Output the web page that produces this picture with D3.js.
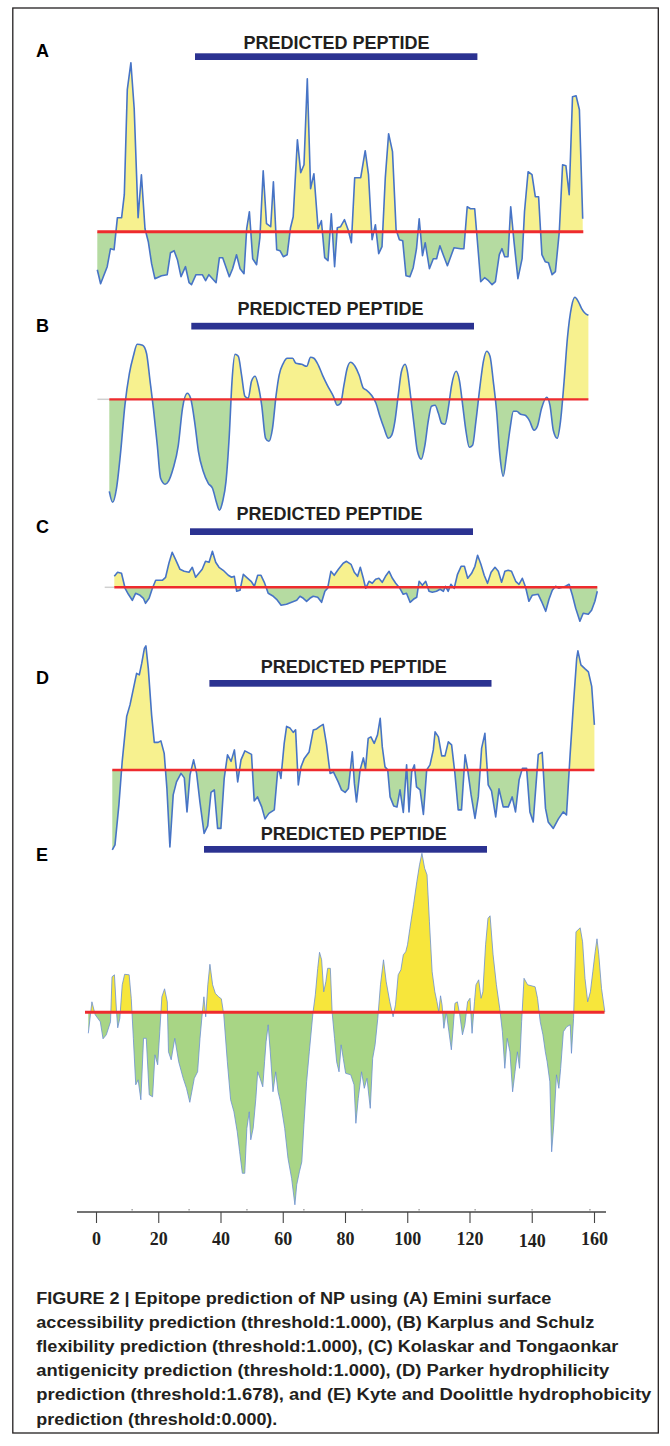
<!DOCTYPE html>
<html>
<head>
<meta charset="utf-8">
<script src="https://cdnjs.cloudflare.com/ajax/libs/d3/7.8.5/d3.min.js"></script>
<style>
  body { margin: 0; background: #fff; }
  svg { display: block; }
</style>
</head>
<body>
<svg id="fig" width="670" height="1446"></svg>
<script>
// [residue, score]

// (A) Emini surface accessibility
var emini = [[0,0.62],[1.1,0.48],[3.3,0.65],[4.4,0.83],[5.6,0.82],[6.7,1.14],[8.1,1.14],[9.0,1.37],[10.0,2.42],[11.2,2.69],[12.3,2.23],[13.6,1.14],[14.7,1.57],[15.9,1.03],[17.0,0.90],[18.1,0.68],[19.2,0.53],[21.4,0.56],[23.3,0.57],[24.4,0.79],[25.6,0.81],[26.7,0.72],[27.9,0.55],[29.4,0.65],[30.6,0.49],[31.4,0.47],[32.9,0.57],[35.0,0.57],[36.1,0.51],[37.2,0.57],[39.6,0.49],[40.7,0.74],[41.8,0.74],[44.0,0.55],[45.1,0.63],[46.4,0.77],[47.6,0.63],[48.9,0.58],[49.8,1.03],[50.7,1.20],[51.8,0.73],[53.1,0.67],[54.2,0.94],[55.3,1.61],[56.4,1.08],[57.8,1.05],[58.7,1.50],[59.8,0.82],[60.9,0.81],[62.0,0.75],[63.3,0.77],[64.4,1.04],[65.3,1.15],[66.7,1.92],[67.8,1.59],[68.9,1.67],[70.0,2.53],[71.1,1.43],[72.2,1.58],[73.6,1.03],[74.7,1.11],[75.8,0.74],[76.9,0.71],[78.0,1.18],[79.1,0.65],[80.0,1.04],[81.1,1.05],[82.4,1.12],[83.6,1.02],[84.7,0.89],[85.8,1.54],[87.8,1.54],[89.3,1.81],[90.4,1.57],[91.6,0.92],[92.7,1.07],[93.8,0.78],[94.9,0.85],[96.0,1.54],[97.1,1.98],[98.4,1.80],[99.6,1.02],[100.7,0.92],[101.8,0.91],[102.9,0.56],[104.2,0.55],[105.3,0.64],[106.4,0.83],[107.3,1.13],[108.4,0.76],[109.3,0.89],[110.7,0.63],[112.0,0.73],[113.1,0.73],[114.2,0.86],[115.3,0.77],[116.7,0.66],[117.8,0.75],[118.9,0.84],[121.1,0.83],[122.2,0.83],[123.3,1.25],[124.4,1.23],[125.8,1.23],[126.9,0.83],[127.8,0.50],[129.1,0.54],[130.4,0.51],[131.6,0.47],[132.7,0.50],[134.0,0.77],[134.9,0.83],[135.8,0.75],[136.9,0.75],[137.8,1.25],[138.9,0.90],[140.2,0.53],[141.6,0.73],[142.4,1.20],[143.6,1.60],[144.9,1.57],[146.0,1.35],[147.1,1.35],[148.2,0.77],[149.3,0.70],[150.4,0.69],[151.6,0.57],[152.7,0.60],[154.0,1.00],[155.1,1.67],[156.2,1.66],[157.3,1.37],[158.4,2.35],[159.6,2.36],[160.7,2.22],[161.8,1.13]];

// (B) Karplus and Schulz flexibility
var karplus = [[0,0.908],[1.1,0.897],[2.4,0.911],[3.8,0.948],[5.2,0.994],[6.7,1.026],[8.0,1.043],[9.3,1.055],[11.1,1.054],[12.4,1.046],[13.6,1.018],[14.7,0.991],[16.0,0.954],[17.1,0.921],[18.6,0.915],[19.7,0.918],[21.3,0.931],[23.0,0.954],[24.4,0.991],[26.0,1.006],[27.1,1.001],[28.6,0.974],[29.7,0.948],[31.3,0.928],[33.0,0.916],[34.4,0.911],[35.8,0.896],[36.7,0.889],[37.8,0.898],[38.9,0.918],[40.0,0.964],[40.9,1.018],[41.9,1.045],[43.0,1.043],[44.1,1.024],[45.2,1.003],[46.3,1.001],[47.4,1.018],[48.6,1.023],[49.7,1.013],[50.8,0.994],[52.1,0.961],[53.2,0.958],[54.4,0.971],[55.6,1.004],[56.6,1.024],[58.0,1.036],[59.3,1.041],[61.1,1.041],[62.2,1.036],[64.1,1.035],[65.8,1.033],[67.1,1.042],[68.2,1.041],[69.7,1.034],[71.1,1.024],[72.7,1.014],[74.7,1.003],[76.0,0.994],[77.1,0.996],[78.2,1.014],[79.3,1.031],[80.4,1.037],[81.9,1.033],[83.3,1.024],[84.7,1.011],[85.8,1.009],[87.4,1.004],[88.9,0.996],[90.2,0.983],[91.6,0.971],[93.0,0.961],[94.1,0.964],[95.2,0.978],[96.3,1.004],[97.4,1.028],[98.6,1.035],[99.3,1.029],[100.4,1.004],[101.6,0.974],[102.7,0.948],[104.0,0.940],[105.2,0.954],[106.3,0.978],[107.4,0.993],[108.6,0.994],[109.7,0.986],[110.8,0.976],[111.9,0.975],[113.0,0.991],[114.1,1.014],[115.6,1.028],[116.7,1.019],[117.8,0.994],[118.9,0.968],[120.0,0.952],[121.1,0.954],[122.2,0.978],[123.6,1.014],[124.7,1.038],[125.8,1.048],[126.9,1.043],[128.0,1.018],[129.1,0.988],[130.2,0.944],[131.3,0.923],[132.4,0.944],[133.6,0.971],[134.7,0.988],[135.8,0.988],[137.1,0.985],[138.6,0.984],[140.0,0.979],[141.6,0.969],[142.7,0.973],[144.1,0.991],[145.8,1.002],[146.9,0.994],[148.0,0.969],[149.3,0.961],[150.4,0.978],[151.6,1.018],[152.7,1.061],[154.1,1.093],[155.2,1.102],[156.3,1.098],[157.4,1.091],[158.6,1.086],[159.7,1.084]];

// (C) Kolaskar and Tongaonkar antigenicity
var kolaskar = [[0,1.011],[1.1,1.015],[2.4,1.014],[3.6,0.999],[4.7,0.993],[6.0,0.987],[7.1,0.994],[8.6,0.992],[9.7,0.989],[10.4,0.984],[11.6,0.989],[12.7,0.999],[13.8,1.007],[16.0,1.007],[17.1,1.010],[18.2,1.024],[19.3,1.035],[20.4,1.028],[21.9,1.018],[23.3,1.016],[24.9,1.015],[26.0,1.020],[27.1,1.010],[28.2,1.014],[29.3,1.018],[30.4,1.026],[31.6,1.025],[32.7,1.036],[33.8,1.025],[34.9,1.020],[36.3,1.017],[38.0,1.012],[39.1,1.010],[40.0,1.011],[40.8,0.996],[41.9,0.997],[43.0,1.013],[44.1,1.010],[45.6,1.006],[46.7,1.001],[47.8,1.012],[48.9,1.012],[50.0,1.005],[51.3,0.994],[53.0,0.991],[54.1,0.988],[55.6,0.982],[57.4,0.983],[59.1,0.985],[60.8,0.987],[61.9,0.991],[63.0,0.989],[64.1,0.986],[65.2,0.989],[66.3,0.991],[67.8,0.990],[69.1,0.985],[70.2,0.996],[71.1,0.999],[72.2,1.016],[73.3,1.012],[74.7,1.018],[76.3,1.024],[77.4,1.026],[78.9,1.023],[80.0,1.015],[81.1,1.011],[82.0,1.020],[83.0,1.009],[83.8,0.999],[84.9,1.006],[86.0,1.004],[87.1,1.008],[88.2,1.009],[89.3,1.005],[90.4,1.011],[91.6,1.016],[92.7,1.009],[93.8,1.004],[95.2,0.999],[96.3,0.993],[97.4,0.994],[98.6,0.985],[99.7,0.988],[100.8,0.990],[101.6,1.006],[102.7,1.002],[103.8,1.006],[104.9,0.996],[106.0,0.995],[107.4,0.996],[108.6,0.998],[109.7,0.996],[110.4,1.001],[111.3,0.996],[112.2,1.003],[113.3,0.999],[114.4,1.013],[115.6,1.021],[116.7,1.021],[117.8,1.009],[119.1,1.014],[120.2,1.021],[121.1,1.032],[122.2,1.023],[123.3,1.012],[124.4,1.004],[125.6,1.015],[126.9,1.020],[128.0,1.016],[129.1,1.005],[130.2,1.016],[131.3,1.017],[132.4,1.016],[133.8,1.006],[134.9,1.003],[136.0,1.009],[137.1,1.000],[138.2,0.986],[139.3,0.992],[141.3,0.993],[142.4,0.986],[143.8,0.976],[144.9,0.988],[146.0,0.997],[147.1,1.001],[148.2,0.999],[149.3,1.000],[150.4,1.001],[151.6,1.003],[152.7,0.992],[153.8,0.979],[155.2,0.966],[156.3,0.974],[158.0,0.973],[159.1,0.977],[160.2,0.986],[161.0,0.996]];

// (D) Parker hydrophilicity
var parker = [[0,0.08],[0.9,0.18],[2.2,0.98],[3.3,1.85],[4.8,2.75],[5.9,2.98],[7.3,3.38],[8.1,3.61],[9.0,3.58],[9.8,3.81],[10.7,4.11],[11.2,4.16],[12.0,3.71],[13.1,2.78],[14.0,2.23],[15.3,2.23],[16.2,2.26],[17.3,2.01],[18.2,1.31],[19.2,0.14],[20.3,1.18],[21.4,1.44],[22.9,1.61],[24.0,1.52],[24.9,0.84],[25.9,1.58],[27.1,1.88],[28.1,1.61],[29.2,1.04],[30.6,0.41],[31.8,0.56],[32.9,1.23],[34.0,1.28],[35.1,0.51],[36.2,0.51],[37.3,1.51],[38.4,1.98],[39.6,1.85],[40.7,2.08],[41.8,1.44],[42.9,1.88],[44.2,2.06],[46.4,1.99],[47.3,1.06],[48.4,1.14],[49.8,0.94],[50.9,0.70],[52.2,0.81],[54.0,0.88],[55.1,1.64],[55.6,1.68],[56.2,1.51],[57.3,2.21],[58.1,2.55],[59.2,2.52],[60.3,2.43],[61.1,2.48],[62.0,1.38],[62.9,1.74],[64.0,1.91],[65.6,2.04],[67.0,2.48],[68.1,2.50],[69.2,2.55],[70.3,2.59],[71.4,2.19],[72.6,1.61],[73.7,1.64],[75.3,1.44],[76.4,1.28],[77.6,1.23],[78.7,1.31],[80.0,2.04],[80.7,1.41],[81.4,1.04],[82.6,1.68],[83.7,1.92],[84.4,1.70],[85.3,2.31],[86.2,2.34],[87.3,2.21],[88.4,2.38],[89.3,2.71],[90.0,2.14],[90.9,1.74],[91.8,1.68],[92.6,1.14],[93.8,0.96],[94.9,0.94],[95.9,1.28],[97.0,0.83],[98.1,1.78],[98.9,0.84],[99.8,1.64],[100.7,1.78],[101.4,1.34],[102.6,1.28],[103.7,0.79],[104.8,1.68],[105.9,1.78],[107.0,2.08],[107.6,2.44],[108.7,2.34],[109.8,1.96],[110.9,1.96],[112.0,2.24],[113.1,2.18],[114.2,1.61],[115.3,0.88],[116.4,0.88],[117.6,1.98],[118.4,1.71],[119.6,1.18],[120.9,0.71],[122.0,1.14],[123.1,2.11],[124.2,2.41],[125.3,1.38],[126.4,1.26],[127.8,0.74],[128.9,1.30],[130.3,0.94],[132.0,0.94],[133.3,1.14],[134.4,0.84],[135.6,1.48],[136.7,1.71],[138.1,1.71],[139.2,0.84],[140.3,0.64],[142.0,1.99],[143.3,2.03],[144.4,0.91],[145.3,0.64],[147.0,0.51],[148.7,0.70],[150.3,0.84],[151.4,0.78],[152.6,1.98],[153.7,2.98],[154.8,3.91],[155.2,4.06],[156.2,3.78],[157.6,3.70],[158.7,3.64],[159.8,3.35],[160.7,2.58]];

// (E) Kyte and Doolittle hydrophobicity
var kyte = [[1.1,-0.42],[2.3,0.21],[3.4,-0.05],[5.1,-0.19],[6.0,-0.53],[7.1,-0.45],[8.5,-0.19],[9.0,0.71],[9.8,0.75],[10.5,0.01],[10.9,-0.31],[11.6,-0.12],[12.4,0.55],[13.2,0.76],[14.7,0.75],[15.4,0.28],[16.1,-0.52],[16.9,-1.45],[17.7,-1.35],[18.6,-1.75],[19.5,-0.52],[20.4,-0.52],[21.4,-1.65],[22.5,-1.69],[23.3,-0.85],[24.2,-1.05],[24.9,-0.39],[25.6,0.31],[26.5,0.47],[27.4,0.21],[27.8,-0.79],[28.7,-0.95],[29.9,-0.52],[31.2,-0.99],[32.7,-1.32],[33.8,-1.52],[34.9,-1.80],[36.4,-1.32],[37.5,-1.19],[38.3,-0.52],[39.1,0.01],[39.6,0.31],[40.2,-0.09],[40.9,0.55],[41.6,0.96],[42.5,0.55],[43.4,0.38],[44.5,0.31],[45.4,0.27],[46.2,-0.04],[47.4,-0.99],[48.5,-1.75],[49.6,-1.99],[50.7,-2.39],[51.5,-2.79],[52.4,-3.22],[53.2,-3.22],[53.9,-2.32],[54.7,-1.99],[55.2,-2.55],[56.0,-2.32],[56.9,-1.72],[57.5,-1.19],[58.3,-1.32],[59.2,-1.49],[59.8,-0.99],[60.3,-0.59],[61.0,-0.25],[61.7,-0.79],[62.6,-1.59],[63.5,-1.19],[64.3,-1.59],[65.1,-1.79],[66.5,-2.32],[67.6,-2.92],[68.8,-3.32],[69.9,-3.85],[70.5,-3.45],[71.4,-3.19],[72.2,-2.99],[72.9,-2.25],[73.8,-1.39],[74.7,-0.79],[75.9,-0.02],[76.7,0.35],[77.5,0.88],[78.1,1.20],[78.8,1.05],[79.5,0.41],[80.2,0.61],[80.8,0.88],[81.7,0.88],[82.3,0],[83.1,-0.52],[83.8,-0.99],[84.6,-1.19],[85.3,-0.65],[86.0,-0.92],[86.8,-1.22],[88.5,-1.25],[89.6,-1.45],[90.2,-2.22],[91.0,-1.72],[92.1,-1.19],[93.0,-1.52],[93.9,-1.32],[95.0,-1.92],[95.8,-0.92],[96.6,-0.65],[97.5,-0.12],[98.4,0.55],[99.4,1.05],[100.3,0.61],[101.5,0.21],[102.6,-0.09],[103.4,0.15],[104.3,0.75],[105.2,0.85],[106.0,1.15],[106.8,1.21],[107.4,1.35],[108.2,1.68],[109.4,2.15],[110.5,2.61],[111.4,2.95],[112.2,3.18],[113.1,2.88],[113.9,2.75],[114.7,1.81],[115.6,0.81],[116.5,0.41],[117.2,0.21],[117.8,0.01],[118.4,0.33],[118.9,0.15],[119.5,-0.32],[120.3,0.01],[121.2,-0.39],[122.0,-0.75],[122.5,-0.39],[123.2,0.18],[124.0,0.21],[124.8,-0.05],[125.7,-0.45],[126.5,-0.25],[127.4,0.21],[128.2,0.28],[128.9,-0.42],[129.7,0.21],[130.2,0.55],[131.1,0.65],[131.9,0.28],[132.5,0.41],[133.4,1.35],[134.2,1.88],[134.9,1.93],[135.9,1.15],[137.0,0.55],[138.1,0.08],[139.0,-0.39],[139.8,-1.12],[140.6,-0.52],[141.5,-0.79],[142.4,-1.59],[143.2,-1.19],[144.0,-0.79],[144.7,-1.12],[145.4,-0.19],[146.2,0.68],[147.4,0.55],[149.9,0.51],[150.7,0.28],[151.6,-0.19],[152.5,-0.45],[153.3,-0.79],[153.9,-0.99],[154.8,-1.39],[155.4,-2.79],[156.1,-2.25],[157.0,-1.25],[157.8,-1.52],[158.4,-1.12],[159.3,-0.39],[160.4,-0.29],[161.6,-0.25],[162.0,-0.82],[162.7,-0.12],[163.5,1.61],[164.9,1.69],[165.7,1.41],[166.5,0.68],[167.4,0.21],[168.3,0.41],[169.1,0.81],[169.9,1.21],[170.5,1.47],[171.1,1.15],[172.0,0.48],[173.1,0.01]];

var thresholds = [1.000, 1.000, 1.000, 1.678, 0.000];
var panelLetters = ["A", "B", "C", "D", "E"];
var peptideLabel = "PREDICTED PEPTIDE";
var axisTicks = [0, 20, 40, 60, 80, 100, 120, 140, 160];
var minorTicks = [11.6, 29.9, 48.5, 66.8, 85.5, 103.8, 121.8, 140.1, 158.7];
var captionLines = [
    "FIGURE 2 | Epitope prediction of NP using (A) Emini surface",
    "accessibility prediction (threshold:1.000), (B) Karplus and Schulz",
    "flexibility prediction (threshold:1.000), (C) Kolaskar and Tongaonkar",
    "antigenicity prediction (threshold:1.000), (D) Parker hydrophilicity",
    "prediction (threshold:1.678), and (E) Kyte and Doolittle hydrophobicity",
    "prediction (threshold:0.000)."
];

// layout of each pasted panel (pixels)
var pale = { up: "#f7f18f", down: "#b5dba1", line: "#4774c6", lw: 1.6 };
var layout = [
    { data: emini,    dom: [0, 162],   rng: [97.3, 583.3],  thrY: 231.7,  ppu: 100,  curve: d3.curveLinear,  red: 3,
      letterY: 57.3, titleX: 243.6, titleY: 49.3, bar: [195, 477.4], barY: 53.3, stub: null },
    { data: karplus,  dom: [0, 159.7], rng: [109.3, 588.4], thrY: 399.3,  ppu: 1000, curve: d3.curveMonotoneX, red: 2.2,
      letterY: 332, titleX: 237.5, titleY: 315, bar: [191.3, 474], barY: 322.8, stub: [97.4, 109.3] },
    { data: kolaskar, dom: [0, 161],   rng: [114.3, 597.3], thrY: 587.3,  ppu: 1000, curve: d3.curveLinear,  red: 2.6,
      letterY: 533, titleX: 236.5, titleY: 520, bar: [190, 473], barY: 528.3, stub: [104.7, 114.3] },
    { data: parker,   dom: [0, 160.7], rng: [112.3, 594.4], thrY: 770,    ppu: 50,   curve: d3.curveLinear,  red: 2.6,
      letterY: 684.3, titleX: 260.7, titleY: 673.3, bar: [209.4, 491.5], barY: 680, stub: null },
    { data: kyte,     dom: [0, 173],   rng: [85, 604.5],    thrY: 1012.3, ppu: 50,   curve: d3.curveLinear,  red: 3,
      letterY: 860.7, titleX: 260.7, titleY: 840, bar: [204, 487], barY: 846, stub: null,
      up: "#f7e63b", down: "#a8d585", line: "#6b8fd2", lw: 0.8 }
];

var svg = d3.select("#fig");
var defs = svg.append("defs");

// outer frame
svg.append("rect")
    .attr("x", 12.8).attr("y", 8)
    .attr("width", 645.5).attr("height", 1425)
    .attr("fill", "none").attr("stroke", "#231f20").attr("stroke-width", 1.3);

layout.forEach(function(p, i) {
    var thr = thresholds[i];
    var x = d3.scaleLinear().domain(p.dom).range(p.rng);
    var y = d3.scaleLinear().domain([thr, thr + 1]).range([p.thrY, p.thrY - p.ppu]);
    var up = p.up || pale.up, down = p.down || pale.down;
    var g = svg.append("g").attr("class", "panel panel-" + panelLetters[i]);

    // clip the filled area above / below the threshold line
    defs.append("clipPath").attr("id", "above" + i)
        .append("rect").attr("x", 0).attr("width", 670)
        .attr("y", y(thr) - 400).attr("height", 400);
    defs.append("clipPath").attr("id", "below" + i)
        .append("rect").attr("x", 0).attr("width", 670)
        .attr("y", y(thr)).attr("height", 400);

    var area = d3.area()
        .curve(p.curve)
        .x(function(d) { return x(d[0]); })
        .y0(y(thr))
        .y1(function(d) { return y(d[1]); });

    var line = d3.line()
        .curve(p.curve)
        .x(function(d) { return x(d[0]); })
        .y(function(d) { return y(d[1]); });

    g.append("path").datum(p.data)
        .attr("d", area).attr("fill", up)
        .attr("clip-path", "url(#above" + i + ")");
    g.append("path").datum(p.data)
        .attr("d", area).attr("fill", down)
        .attr("clip-path", "url(#below" + i + ")");

    g.append("path").datum(p.data)
        .attr("d", line)
        .attr("fill", "none")
        .attr("stroke", p.line || pale.line)
        .attr("stroke-width", p.lw || pale.lw)
        .attr("stroke-linejoin", "round");

    // little grey stub left of the threshold in B and C
    if (p.stub) {
        g.append("line")
            .attr("x1", p.stub[0]).attr("x2", p.stub[1])
            .attr("y1", y(thr)).attr("y2", y(thr))
            .attr("stroke", "#d0d0d0").attr("stroke-width", 1.5);
    }

    // threshold
    g.append("line")
        .attr("x1", x(p.dom[0])).attr("x2", x(p.dom[1]))
        .attr("y1", y(thr)).attr("y2", y(thr))
        .attr("stroke", "#ee2b2e").attr("stroke-width", p.red);

    // predicted peptide bar + label
    g.append("rect")
        .attr("x", p.bar[0]).attr("y", p.barY)
        .attr("width", p.bar[1] - p.bar[0]).attr("height", 6.7)
        .attr("fill", "#2b3291");

    g.append("text")
        .attr("x", p.titleX).attr("y", p.titleY)
        .attr("textLength", 186).attr("lengthAdjust", "spacingAndGlyphs")
        .style("font-family", "'Liberation Sans Narrow', 'Arial Narrow', 'Liberation Sans', Arial, sans-serif")
        .style("font-weight", "bold").style("font-size", "19px")
        .attr("fill", "#231f20")
        .text(peptideLabel);

    g.append("text")
        .attr("x", 36).attr("y", p.letterY)
        .style("font-family", "'Liberation Sans', Arial, sans-serif")
        .style("font-weight", "bold").style("font-size", "18px")
        .attr("fill", "#000")
        .text(panelLetters[i]);
});

// residue axis under panel E
var xAxisScale = d3.scaleLinear().domain([0, 160]).range([96, 594]);
var axisY = 1212;

svg.append("line")
    .attr("x1", 77).attr("x2", 606)
    .attr("y1", axisY).attr("y2", axisY)
    .attr("stroke", "#444").attr("stroke-width", 1.3);

svg.append("g").selectAll("line.minor")
    .data(minorTicks).enter().append("line")
    .attr("class", "minor")
    .attr("x1", function(d) { return xAxisScale(d); })
    .attr("x2", function(d) { return xAxisScale(d); })
    .attr("y1", axisY - 3).attr("y2", axisY - 1.5)
    .attr("stroke", "#777").attr("stroke-width", 1);

var xAxis = d3.axisBottom(xAxisScale)
    .tickValues(axisTicks)
    .tickSize(11)
    .tickSizeOuter(0);

var gx = svg.append("g")
    .attr("transform", "translate(0," + axisY + ")")
    .call(xAxis);

gx.select(".domain").remove();
gx.selectAll(".tick line").attr("stroke", "#444").attr("stroke-width", 1.1);
gx.selectAll(".tick text")
    .attr("y", 33).attr("dy", function(d) { return d === 140 ? 2 : 0; })
    .attr("fill", "#231f20")
    .style("font-family", "'Liberation Serif', 'Times New Roman', serif")
    .style("font-weight", "bold")
    .style("font-size", "18px");

// caption
var captionWidths = [515, 558, 582, 573, 615, 241];
var caption = svg.append("g");
captionLines.forEach(function(t, i) {
    caption.append("text")
        .attr("x", 36.3)
        .attr("y", 1303.5 + i * 24.2)
        .attr("textLength", captionWidths[i])
        .attr("lengthAdjust", "spacingAndGlyphs")
        .style("font-family", "'Liberation Sans Narrow', 'Arial Narrow', 'Liberation Sans', Arial, sans-serif")
        .style("font-weight", "bold").style("font-size", "16px")
        .attr("fill", "#231f20")
        .text(t);
});
</script>
</body>
</html>
